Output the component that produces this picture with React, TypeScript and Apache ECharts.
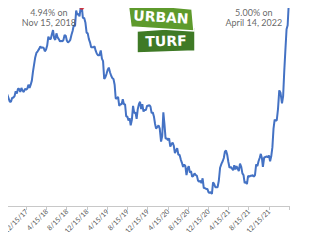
import React, { useEffect, useRef } from "react";
import * as echarts from "echarts";

const dates: string[] = [
  "2017-08-03","2017-08-10","2017-08-17","2017-08-24","2017-08-31","2017-09-07","2017-09-14","2017-09-21","2017-09-28",
  "2017-10-05","2017-10-12","2017-10-19","2017-10-26","2017-11-02","2017-11-09","2017-11-16","2017-11-22","2017-11-30",
  "2017-12-07","2017-12-14","2017-12-21","2017-12-28",
  "2018-01-04","2018-01-11","2018-01-18","2018-01-25","2018-02-01","2018-02-08","2018-02-15","2018-02-22","2018-03-01",
  "2018-03-08","2018-03-15","2018-03-22","2018-03-29","2018-04-05","2018-04-12","2018-04-19","2018-04-26","2018-05-03",
  "2018-05-10","2018-05-17","2018-05-24","2018-05-31","2018-06-07","2018-06-14","2018-06-21","2018-06-28","2018-07-05",
  "2018-07-12","2018-07-19","2018-07-26","2018-08-02","2018-08-09","2018-08-16","2018-08-23","2018-08-30","2018-09-06",
  "2018-09-13","2018-09-20","2018-09-27","2018-10-04","2018-10-11","2018-10-18","2018-10-25","2018-11-01","2018-11-08",
  "2018-11-15","2018-11-21","2018-11-29","2018-12-06","2018-12-13","2018-12-20","2018-12-27",
  "2019-01-03","2019-01-10","2019-01-17","2019-01-24","2019-01-31","2019-02-07","2019-02-14","2019-02-21","2019-02-28",
  "2019-03-07","2019-03-14","2019-03-21","2019-03-28","2019-04-04","2019-04-11","2019-04-18","2019-04-25","2019-05-02",
  "2019-05-09","2019-05-16","2019-05-23","2019-05-30","2019-06-06","2019-06-13","2019-06-20","2019-06-27","2019-07-03",
  "2019-07-11","2019-07-18","2019-07-25","2019-08-01","2019-08-08","2019-08-15","2019-08-22","2019-08-29","2019-09-05",
  "2019-09-12","2019-09-19","2019-09-26","2019-10-03","2019-10-10","2019-10-17","2019-10-24","2019-10-31","2019-11-07",
  "2019-11-14","2019-11-21","2019-11-27","2019-12-05","2019-12-12","2019-12-19","2019-12-26",
  "2020-01-02","2020-01-09","2020-01-16","2020-01-23","2020-01-30","2020-02-06","2020-02-13","2020-02-20","2020-02-27",
  "2020-03-05","2020-03-12","2020-03-19","2020-03-26","2020-04-02","2020-04-09","2020-04-16","2020-04-23","2020-04-30",
  "2020-05-07","2020-05-14","2020-05-21","2020-05-28","2020-06-04","2020-06-11","2020-06-18","2020-06-25","2020-07-02",
  "2020-07-09","2020-07-16","2020-07-23","2020-07-30","2020-08-06","2020-08-13","2020-08-20","2020-08-27","2020-09-03",
  "2020-09-10","2020-09-17","2020-09-24","2020-10-01","2020-10-08","2020-10-15","2020-10-22","2020-10-29","2020-11-05",
  "2020-11-12","2020-11-19","2020-11-25","2020-12-03","2020-12-10","2020-12-17","2020-12-23","2020-12-30",
  "2021-01-07","2021-01-14","2021-01-21","2021-01-28","2021-02-04","2021-02-11","2021-02-18","2021-02-25","2021-03-04",
  "2021-03-11","2021-03-18","2021-03-25","2021-04-01","2021-04-08","2021-04-15","2021-04-22","2021-04-29","2021-05-06",
  "2021-05-13","2021-05-20","2021-05-27","2021-06-03","2021-06-10","2021-06-17","2021-06-24","2021-07-01","2021-07-08",
  "2021-07-15","2021-07-22","2021-07-29","2021-08-05","2021-08-12","2021-08-19","2021-08-26","2021-09-02","2021-09-09",
  "2021-09-16","2021-09-23","2021-09-30","2021-10-07","2021-10-14","2021-10-21","2021-10-28","2021-11-04","2021-11-10",
  "2021-11-18","2021-11-24","2021-12-02","2021-12-09","2021-12-16","2021-12-23","2021-12-30",
  "2022-01-06","2022-01-13","2022-01-20","2022-01-27","2022-02-03","2022-02-10","2022-02-17","2022-02-24","2022-03-03",
  "2022-03-10","2022-03-17","2022-03-24","2022-03-31","2022-04-07","2022-04-14",
];

const rates: number[] = [
  3.93,3.90,3.89,3.86,3.82,3.78,3.78,3.83,3.83,
  3.85,3.91,3.88,3.94,3.94,3.90,3.95,3.92,3.90,
  3.94,3.93,3.94,3.99,
  3.95,3.99,4.04,4.15,4.22,4.32,4.38,4.40,4.43,
  4.46,4.44,4.45,4.44,4.40,4.42,4.47,4.58,4.55,
  4.55,4.61,4.66,4.56,4.54,4.62,4.57,4.55,4.52,
  4.53,4.52,4.54,4.60,4.59,4.53,4.51,4.52,4.54,
  4.60,4.65,4.72,4.71,4.90,4.85,4.86,4.83,4.94,
  4.94,4.81,4.81,4.75,4.63,4.62,4.55,
  4.51,4.45,4.45,4.45,4.46,4.41,4.37,4.35,4.35,
  4.41,4.31,4.28,4.06,4.08,4.12,4.17,4.20,4.14,
  4.10,4.07,4.06,3.99,3.82,3.82,3.84,3.73,3.75,
  3.75,3.81,3.75,3.75,3.60,3.60,3.55,3.58,3.49,
  3.56,3.73,3.64,3.65,3.57,3.69,3.75,3.78,3.69,
  3.75,3.66,3.68,3.68,3.73,3.73,3.74,
  3.72,3.64,3.65,3.60,3.51,3.45,3.47,3.49,3.45,
  3.29,3.36,3.65,3.50,3.33,3.33,3.31,3.33,3.23,
  3.26,3.28,3.24,3.15,3.18,3.21,3.13,3.13,3.07,
  3.03,2.98,3.01,2.99,2.88,2.96,2.99,2.91,2.93,
  2.86,2.87,2.90,2.88,2.87,2.81,2.80,2.81,2.78,
  2.84,2.72,2.72,2.71,2.71,2.67,2.66,2.67,
  2.65,2.79,2.77,2.73,2.73,2.73,2.81,2.97,3.02,
  3.05,3.09,3.17,3.18,3.13,3.04,2.97,2.98,2.96,
  2.94,3.00,2.95,2.99,2.96,2.93,3.02,2.98,2.90,
  2.88,2.78,2.80,2.77,2.87,2.86,2.87,2.87,2.88,
  2.86,2.88,3.01,2.99,3.05,3.09,3.14,3.09,2.98,
  3.10,3.10,3.11,3.10,3.12,3.05,3.11,
  3.22,3.45,3.56,3.55,3.55,3.69,3.92,3.89,3.76,
  3.85,4.16,4.42,4.67,4.72,5.00,
];

const peakDates: string[] = ["2018-11-15", "2022-04-14"];
const peakRates: number[] = [4.94, 5.0];
const peakLabels: string[] = ["4.94% on\nNov 15, 2018", "5.00% on\nApril 14, 2022"];

const tickStartYear = 2017;
const tickStartMonth = 8;
const tickDay = 15;
const tickInterval = 4;
const tickMax = 56;

function monthIndex(d: string): number {
  const [y, m, day] = d.split("-").map(Number);
  const dim = new Date(y, m, 0).getDate();
  return (y - tickStartYear) * 12 + (m - tickStartMonth) + (day - tickDay) / dim;
}

function tickLabel(v: number): string {
  if (v <= 0 || v >= tickMax) return "";
  const total = tickStartMonth - 1 + v;
  const m = (total % 12) + 1;
  const y = tickStartYear + Math.floor(total / 12);
  return `${m}/${tickDay}/${String(y % 100).padStart(2, "0")}`;
}

export default function App() {
  const ref = useRef<HTMLDivElement>(null);
  useEffect(() => {
    if (!ref.current) return;
    const chart = echarts.init(ref.current, undefined, { renderer: "svg" });
    const lineData = dates.map((d, i) => [monthIndex(d), rates[i]]);
    const peakData = peakDates.map((d, i) => ({
      value: [monthIndex(d), peakRates[i]],
      label: {
        formatter: peakLabels[i],
        offset: i === 0 ? [-33, 10] : [-35, 15],
      },
    }));
    chart.setOption({
      animation: false,
      backgroundColor: "#ffffff",
      textStyle: { fontFamily: "Lato, 'Noto Sans', sans-serif" },
      grid: { left: 0, right: 31, top: 0, bottom: 34, containLabel: false },
      xAxis: {
        type: "value",
        min: 0,
        max: tickMax,
        interval: tickInterval,
        splitLine: { show: false },
        axisLine: { show: true, lineStyle: { color: "#c8c8c8", width: 1 } },
        axisTick: { show: true, length: 4, lineStyle: { color: "#c8c8c8" } },
        axisLabel: {
          rotate: 45,
          margin: 4,
          fontSize: 7,
          color: "#595959",
          fontFamily: "Lato, sans-serif",
          formatter: (v: number) => tickLabel(v),
          showMinLabel: true,
          showMaxLabel: true,
          hideOverlap: false,
        },
      },
      yAxis: {
        type: "value",
        min: 2.5,
        max: 5.03,
        show: false,
        splitLine: { show: false },
      },
      series: [
        {
          type: "line",
          data: lineData,
          showSymbol: false,
          symbol: "none",
          clip: true,
          lineStyle: { color: "#4472C4", width: 2 },
          z: 2,
        },
        {
          type: "scatter",
          data: peakData,
          symbolSize: 5,
          itemStyle: { color: "#e8231f" },
          z: 3,
          label: {
            show: true,
            position: "inside",
            align: "center",
            verticalAlign: "middle",
            fontSize: 9,
            lineHeight: 10,
            color: "#404040",
            fontFamily: "Lato, sans-serif",
          },
        },
      ],
      graphic: [
        {
          type: "group",
          z: 10,
          children: [
            {
              type: "polygon",
              shape: { points: [[137, 31], [195, 27], [195, 51], [137, 53]] },
              style: { fill: "#3f7a26", stroke: "#ffffff", lineWidth: 1.5 },
            },
            {
              type: "text",
              x: 166,
              y: 41,
              rotation: 0.03,
              style: {
                text: "TURF",
                fill: "#ffffff",
                font: "bold 14px 'DejaVu Sans', sans-serif",
                align: "center",
                verticalAlign: "middle",
              },
            },
            {
              type: "polygon",
              shape: { points: [[128, 3], [192, 9], [194, 31], [131, 27]] },
              style: { fill: "#5e9a2c", stroke: "#ffffff", lineWidth: 1.5 },
            },
            {
              type: "text",
              x: 161,
              y: 17,
              rotation: -0.06,
              style: {
                text: "URBAN",
                fill: "#ffffff",
                font: "bold 14px 'DejaVu Sans', sans-serif",
                align: "center",
                verticalAlign: "middle",
              },
            },
          ],
        },
      ],
    });
    return () => chart.dispose();
  }, []);
  return <div ref={ref} style={{ width: 320, height: 240, margin: -8 }} />;
}
